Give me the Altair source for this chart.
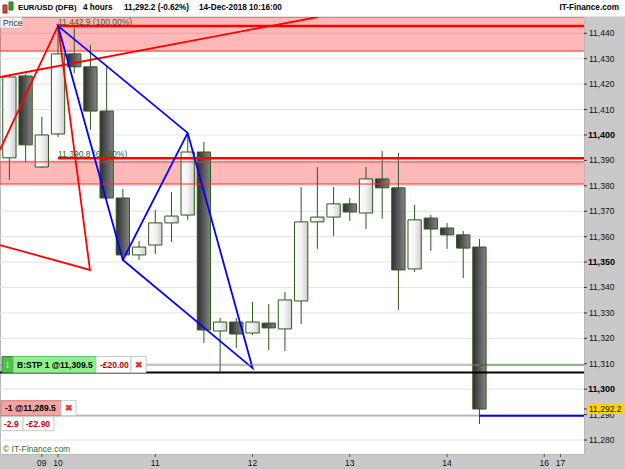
import altair as alt
import pandas as pd

# ---------------- data ----------------
candle_idx = list(range(30))
opens = [11391.0, 11423.2, 11387.4, 11400.4, 11431.9, 11426.8, 11409.4, 11375.2, 11352.8, 11356.7,
         11365.4, 11368.5, 11393.3, 11322.9, 11326.4, 11322.1, 11326.0, 11323.7, 11334.7, 11365.8,
         11367.7, 11372.9, 11369.3, 11382.7, 11379.2, 11347.3, 11367.3, 11363.4, 11360.7, 11355.9]
highs = [11423.6, 11424.0, 11407.1, 11442.9, 11442.1, 11435.4, 11427.5, 11378.8, 11358.3, 11370.5,
         11377.6, 11400.0, 11397.2, 11328.0, 11328.0, 11334.3, 11333.5, 11338.2, 11379.5, 11387.4,
         11379.5, 11375.2, 11387.4, 11393.7, 11392.9, 11372.5, 11368.5, 11365.4, 11362.2, 11359.1]
lows = [11382.3, 11389.4, 11387.0, 11399.2, 11424.4, 11402.0, 11374.8, 11350.8, 11350.8, 11353.2,
        11357.9, 11366.6, 11318.2, 11306.8, 11316.2, 11321.3, 11315.4, 11315.0, 11325.6, 11355.2,
        11360.3, 11366.2, 11363.0, 11367.0, 11331.2, 11346.1, 11354.4, 11355.2, 11343.7, 11286.3]
closes = [11422.8, 11396.1, 11400.0, 11431.9, 11426.8, 11409.4, 11375.2, 11352.8, 11355.9, 11365.4,
          11368.1, 11393.3, 11323.3, 11326.4, 11321.7, 11326.4, 11324.1, 11335.1, 11365.8, 11367.7,
          11372.9, 11369.7, 11382.7, 11379.2, 11346.9, 11366.6, 11363.0, 11360.7, 11355.5, 11292.2]

y_ticks = list(range(11280, 11441, 10))
y_bold_ticks = [11300, 11350, 11400]
x_tick_pos = [2, 3, 9, 15, 21, 27, 33, 34]
x_tick_lbl = ["09", "10", "11", "12", "13", "14", "16", "17"]

fib_levels = [11442.9, 11390.8]
fib_labels = ["11,442.9 (100.00%)", "11,390.8 (61.80%)"]
fib_start = [3, 3]

zone_bottoms = [11433.0, 11380.7]
zone_tops = [11450.0, 11389.4]

blue_idx = [7, 3, 11, 15, 7, 11]
blue_val = [11350.8, 11442.9, 11400.8, 11308.3, 11350.8, 11400.8]

red_idx = [-0.58, 3, 4.97, -0.58]
red_val = [11394.1, 11442.9, 11346.9, 11356.7]

trend_idx = [-0.58, 19.04]
trend_val = [11422.8, 11446.4]

stop_level = 11309.5
position_level = 11289.5
support_level = 11306.6
last_price = 11292.2
last_idx = 29

# ---------------- layout ----------------
X_MIN, X_MAX = -0.58, 35.45
Y_MIN, Y_MAX = 11274.5, 11446.4
W, H = 584, 437
FONT = "Liberation Sans"
GREEN = "#2a5a1a"

xs = alt.Scale(domain=[X_MIN, X_MAX], nice=False, zero=False)
ys = alt.Scale(domain=[Y_MIN, Y_MAX], nice=False, zero=False)


def X(f):
    return alt.X(f, type="quantitative", scale=xs, axis=None, title=None)


def Y(f):
    return alt.Y(f, type="quantitative", scale=ys, axis=None, title=None)


one = pd.DataFrame({"k": [0]})

# ---------------- axes (drawn through the scales) ----------------
yt = pd.DataFrame({"v": y_ticks})
yt["bold"] = yt["v"].isin(y_bold_ticks)
grid = alt.Chart(yt).mark_rule(color="#e2e2e2", strokeWidth=1).encode(
    x=alt.value(0), x2=alt.value(W), y=Y("v"))
y_tick_marks = alt.Chart(yt).mark_rule(color="#333", strokeWidth=1).encode(
    x=alt.value(W), x2=alt.value(W + 3), y=Y("v"))
y_lbl_norm = alt.Chart(yt).transform_filter("!datum.bold").transform_calculate(
    s="format(datum.v, ',.0f')"
).mark_text(align="left", baseline="middle", fontSize=8.5, font=FONT, color="#111").encode(
    x=alt.value(W + 5), y=Y("v"), text="s:N")
y_lbl_bold = alt.Chart(yt).transform_filter("datum.bold").transform_calculate(
    s="format(datum.v, ',.0f')"
).mark_text(align="left", baseline="middle", fontSize=9, fontWeight="bold", font=FONT,
            color="#000").encode(
    x=alt.value(W + 4), y=Y("v"), text="s:N")

xt = pd.DataFrame({"p": x_tick_pos, "lbl": x_tick_lbl})
x_tick_marks = alt.Chart(xt).mark_rule(color="#555", strokeWidth=1).encode(
    x=X("p"), y=alt.value(H), y2=alt.value(H + 3))
x_lbls = alt.Chart(xt).mark_text(align="center", baseline="middle", fontSize=8.5, font=FONT,
                                 color="#111").encode(
    x=X("p"), y=alt.value(H + 9), text="lbl:N")

# ---------------- candles ----------------
df = pd.DataFrame(dict(i=candle_idx, o=opens, h=highs, l=lows, c=closes))
df["x1"] = df["i"] - 0.41
df["x2"] = df["i"] + 0.41
up_df = df[df["c"] >= df["o"]]
dn_df = df[df["c"] < df["o"]]

grad_white = {"gradient": "linear", "x1": 0, "y1": 0, "x2": 1, "y2": 0,
              "stops": [{"offset": 0, "color": "#ffffff"}, {"offset": 0.5, "color": "#f3f3f3"},
                        {"offset": 1, "color": "#cfcfcf"}]}
grad_dark = {"gradient": "linear", "x1": 0, "y1": 0, "x2": 1, "y2": 0,
             "stops": [{"offset": 0, "color": "#2e2e2e"}, {"offset": 1, "color": "#858585"}]}

wicks = alt.Chart(df).mark_rule(color=GREEN, strokeWidth=1).encode(
    x=X("i"), y=Y("l"), y2="h")
bodies_up = alt.Chart(up_df).mark_bar(fill=grad_white, stroke=GREEN, strokeWidth=1).encode(
    x=X("x1"), x2="x2", y=Y("o"), y2="c")
bodies_dn = alt.Chart(dn_df).mark_bar(fill=grad_dark, stroke=GREEN, strokeWidth=1).encode(
    x=X("x1"), x2="x2", y=Y("o"), y2="c")

# ---------------- zones, fibonacci, drawings ----------------
zones = pd.DataFrame(dict(lo=zone_bottoms, hi=zone_tops))
band = alt.Chart(zones).mark_rect(fill="#ff0000", fillOpacity=0.28, clip=True).encode(
    x=alt.value(0), x2=alt.value(W), y=Y("lo"), y2="hi")
band_lo = alt.Chart(zones).mark_rule(color="#ff2a2a", strokeWidth=1, clip=True).encode(
    x=alt.value(0), x2=alt.value(W), y=Y("lo"))
band_hi = alt.Chart(zones).mark_rule(color="#ff2a2a", strokeWidth=1, clip=True).encode(
    x=alt.value(0), x2=alt.value(W), y=Y("hi"))

fib = pd.DataFrame(dict(level=fib_levels, label=fib_labels, start=fib_start))
fib_text = alt.Chart(fib).mark_text(align="left", baseline="alphabetic", dy=-1, fontSize=8.5,
                                    font=FONT, color="#3b5e2b").encode(
    x=X("start"), y=Y("level"), text="label:N")
fib_lines = alt.Chart(fib).mark_rule(color="#ff0000", strokeWidth=2.5).encode(
    x=X("start"), x2=alt.value(W), y=Y("level"))

red_df = pd.DataFrame(dict(i=red_idx, v=red_val, o=list(range(len(red_idx)))))
red_lines = alt.Chart(red_df).mark_line(color="#ff0000", strokeWidth=1.8, clip=True).encode(
    x=X("i"), y=Y("v"), order="o:Q")
trend_df = pd.DataFrame(dict(i=trend_idx, v=trend_val, o=list(range(len(trend_idx)))))
trend_line = alt.Chart(trend_df).mark_line(color="#ff0000", strokeWidth=1.8, clip=True).encode(
    x=X("i"), y=Y("v"), order="o:Q")
blue_df = pd.DataFrame(dict(i=blue_idx, v=blue_val, o=list(range(len(blue_idx)))))
blue_lines = alt.Chart(blue_df).mark_line(color="#0000ff", strokeWidth=1.8, clip=True).encode(
    x=X("i"), y=Y("v"), order="o:Q")


def hline(level, a, b, color, width):
    d = pd.DataFrame({"y": [level], "a": [a], "b": [b]})
    return alt.Chart(d).mark_rule(color=color, strokeWidth=width, clip=True).encode(
        x=X("a"), x2="b", y=Y("y"))


levels = [
    hline(stop_level, X_MIN, last_idx, "#8a8a8a", 1),
    hline(stop_level, last_idx, X_MAX, "#2f6b1f", 1),
    hline(support_level, X_MIN, X_MAX, "#000000", 2),
    hline(position_level, X_MIN, last_idx, "#8a8a8a", 1),
    hline(position_level, last_idx, X_MAX, "#0000ff", 2),
]


def box(x1, x2, y1, y2, fill, stroke="#c8c8c8", sw=1):
    return alt.Chart(one).mark_rect(fill=fill, stroke=stroke, strokeWidth=sw).encode(
        x=alt.value(x1), x2=alt.value(x2), y=alt.value(y1), y2=alt.value(y2))


def txt(x, y, s, size=8.5, color="#000", weight="normal", align="left"):
    return alt.Chart(one).mark_text(align=align, baseline="middle", fontSize=size, font=FONT,
                                    color=color, fontWeight=weight).encode(
        x=alt.value(x), y=alt.value(y), text=alt.value(s))


# current price tag on the right axis
lp = pd.DataFrame({"v": [last_price], "lo": [last_price - 2.0], "hi": [last_price + 2.0],
                   "s": [f"{last_price:,.1f}"]})
price_tag = alt.Chart(lp).mark_rect(fill="#ffd400").encode(
    x=alt.value(W + 3), x2=alt.value(625), y=Y("lo"), y2="hi")
price_tick = alt.Chart(lp).mark_rule(color="#333", strokeWidth=1).encode(
    x=alt.value(W), x2=alt.value(W + 3), y=Y("v"))
price_txt = alt.Chart(lp).mark_text(align="left", baseline="middle", fontSize=8.5, font=FONT,
                                    color="#111").encode(
    x=alt.value(W + 5), y=Y("v"), text="s:N")

widgets = [
    # stop order widget
    box(2, 13, 339.5, 355.5, "#4cc14c", "#2f8f2f"),
    txt(7.5, 347.5, "↕", 10, "#ffffff", "bold", "center"),
    box(13, 96, 339.5, 355.5, "#8ff08f", "#6cc46c"),
    txt(17, 347.5, "B:STP 1 @11,309.5", 8.5, "#000", "bold"),
    box(96, 131, 339.5, 355.5, "#ffffff"),
    txt(100, 347.5, "-£20.00", 8.5, "#c00000", "bold"),
    box(131, 146, 339.5, 355.5, "#ffffff"),
    txt(138.5, 347.5, "✖", 9, "#e03030", "bold", "center"),
    # position widget
    box(1, 61, 383.7, 398.7, "#f5a3a3", "#d27a7a"),
    txt(5, 391.2, "-1 @11,289.5", 8.5, "#000", "bold"),
    box(61, 76, 383.7, 398.7, "#ffffff"),
    txt(68.5, 391.2, "✖", 9, "#e03030", "bold", "center"),
    box(1, 23, 399.7, 413.7, "#ffffff"),
    txt(4, 406.7, "-2.9", 8.5, "#c00000", "bold"),
    box(23, 54, 399.7, 413.7, "#ffffff"),
    txt(26, 406.7, "-£2.90", 8.5, "#c00000", "bold"),
    # copyright & price box
    txt(3, 432, "© IT-Finance.com", 8.5, "#2e6b21"),
    box(0.5, 22, 0.5, 11, "#f2f2f2", "#cfcfcf"),
    txt(3, 6, "Price", 8.5, "#333"),
    # header
    box(0, 625, -17, -0.5, "#ffffff", "#ffffff", 0),
    box(3, 7, -12, -4, "#e04545", "#a02020"),
    box(9, 13, -15, -7, "#35a035", "#1f701f"),
    txt(18, -9, "EUR/USD (DFB)", 7.8, "#000", "bold"),
    txt(83, -9, "4 hours", 8.2, "#000", "bold"),
    txt(124, -9, "11,292.2 (-0.62%)", 8.2, "#000", "bold"),
    txt(199, -9, "14-Dec-2018 10:16:00", 8.2, "#000", "bold"),
    txt(619, -9, "IT-Finance.com", 8.2, "#000", "bold", "right"),
]

chart = alt.layer(
    grid, band, wicks, bodies_up, bodies_dn, band_lo, band_hi, fib_text, fib_lines,
    trend_line, red_lines, blue_lines, *levels,
    y_tick_marks, y_lbl_norm, y_lbl_bold, x_tick_marks, x_lbls,
    price_tag, price_tick, price_txt, *widgets
).properties(
    width=W, height=H,
    autosize=alt.AutoSizeParams(type="none"),
    padding={"left": 0, "top": 17, "right": 41, "bottom": 15},
    background="#c9c9c9",
).configure_view(fill="#ffffff", stroke="#b8b8b8").configure_text(font=FONT)

chart.save("out.html", embed_options={"renderer": "svg", "actions": False})
